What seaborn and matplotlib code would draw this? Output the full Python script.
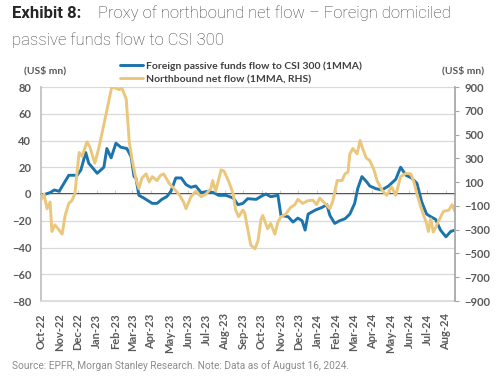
import matplotlib
matplotlib.use("Agg")
import matplotlib.pyplot as plt
import matplotlib.dates as mdates
from matplotlib.ticker import NullFormatter
from matplotlib.lines import Line2D
import seaborn as sns
import pandas as pd

# ---------------- data ----------------
passive_dates = [
    "2022-10-01", "2022-10-09", "2022-10-16", "2022-10-23", "2022-10-31", "2022-11-08",
    "2022-11-16", "2022-11-30", "2022-12-06", "2022-12-14", "2022-12-19", "2023-01-02",
    "2023-01-13", "2023-01-18", "2023-01-25", "2023-02-02", "2023-02-10", "2023-02-20",
    "2023-02-27", "2023-03-04", "2023-03-07", "2023-03-12", "2023-03-20", "2023-04-03",
    "2023-04-11", "2023-04-19", "2023-04-27", "2023-05-04", "2023-05-12", "2023-05-21",
    "2023-05-29", "2023-06-06", "2023-06-14", "2023-06-23", "2023-07-04", "2023-07-14",
    "2023-07-22", "2023-08-03", "2023-08-15", "2023-08-23", "2023-08-31", "2023-09-08",
    "2023-09-22", "2023-10-03", "2023-10-08", "2023-10-16", "2023-10-28", "2023-11-02",
    "2023-11-14", "2023-11-22", "2023-11-30", "2023-12-07", "2023-12-12", "2023-12-17",
    "2023-12-29", "2024-01-09", "2024-01-17", "2024-01-22", "2024-01-30", "2024-02-07",
    "2024-02-16", "2024-02-24", "2024-03-03", "2024-03-08", "2024-03-15", "2024-03-23",
    "2024-03-28", "2024-04-07", "2024-04-17", "2024-04-28", "2024-05-10", "2024-05-18",
    "2024-05-27", "2024-06-05", "2024-06-14", "2024-06-22", "2024-06-30", "2024-07-07",
    "2024-07-15", "2024-07-23", "2024-08-01", "2024-08-09", "2024-08-16",
]
passive_flow = [
    -2, 0, 1, 3, 2, 8,
    14, 14, 18, 31, 23, 15.5,
    20, 34, 27, 38, 35, 34,
    28, 13, 12, -1, -3, -7,
    -7, -4, -2, 2, 12, 12,
    7, 5, 6, 1, 2, 1,
    -1, -1, -3, -8, -7, -3.5,
    -4, -1, 0, -2, -1, -16,
    -17, -21, -18, -20, -27, -15,
    -12, -10, -8, -16, -22, -20,
    -18.5, -15, -7, 4, 13, 9,
    6, 4, 3, 6, 11, 20,
    14, 12, 8, -6, -15, -17,
    -19, -27, -32, -28, -27,
]

northbound_dates = [
    "2022-10-01", "2022-10-06", "2022-10-11", "2022-10-16", "2022-10-19", "2022-10-24",
    "2022-10-31", "2022-11-05", "2022-11-10", "2022-11-16", "2022-11-21", "2022-11-26",
    "2022-12-03", "2022-12-08", "2022-12-16", "2022-12-21", "2022-12-29", "2023-01-05",
    "2023-01-13", "2023-01-21", "2023-01-26", "2023-02-02", "2023-02-07", "2023-02-12",
    "2023-02-19", "2023-02-24", "2023-03-01", "2023-03-07", "2023-03-12", "2023-03-17",
    "2023-03-24", "2023-03-29", "2023-04-03", "2023-04-11", "2023-04-17", "2023-04-22",
    "2023-05-01", "2023-05-09", "2023-05-17", "2023-05-25", "2023-05-29", "2023-06-06",
    "2023-06-14", "2023-06-23", "2023-07-01", "2023-07-09", "2023-07-12", "2023-07-17",
    "2023-07-26", "2023-07-31", "2023-08-08", "2023-08-15", "2023-08-19", "2023-08-24",
    "2023-08-31", "2023-09-03", "2023-09-08", "2023-09-13", "2023-09-20", "2023-09-25",
    "2023-09-30", "2023-10-03", "2023-10-11", "2023-10-16", "2023-10-23", "2023-10-28",
    "2023-11-02", "2023-11-10", "2023-11-18", "2023-11-25", "2023-11-30", "2023-12-08",
    "2023-12-17", "2023-12-25", "2023-12-31", "2024-01-05", "2024-01-14", "2024-01-22",
    "2024-01-27", "2024-02-03", "2024-02-11", "2024-02-16", "2024-02-21", "2024-02-24",
    "2024-02-29", "2024-03-07", "2024-03-12", "2024-03-17", "2024-03-22", "2024-03-28",
    "2024-04-04", "2024-04-09", "2024-04-17", "2024-04-25", "2024-05-03", "2024-05-10",
    "2024-05-18", "2024-05-27", "2024-06-04", "2024-06-09", "2024-06-14", "2024-06-22",
    "2024-06-30", "2024-07-03", "2024-07-07", "2024-07-11", "2024-07-15", "2024-07-20",
    "2024-07-28", "2024-08-06", "2024-08-11", "2024-08-16",
]
northbound_flow = [
    -51, 0, -124, -68, -315, -259,
    -304, -338, -180, -79, -56, 0,
    349, 315, 439, 394, 259, 394,
    585, 776, 900, 889, 878, 889,
    799, 439, 281, 129, 45, 135,
    169, 101, 146, 113, 158, 169,
    90, 45, 0, -68, -124, -23,
    23, -23, 0, 45, 113, 23,
    203, 191, 101, 0, -135, -191,
    -135, -158, -293, -428, -461, -394,
    -214, -180, -293, -248, -338, -236,
    -191, -169, -113, -90, -45, -79,
    -56, -52, -90, -34, -79, -124,
    -56, 113, 113, 169, 186, 338,
    383, 338, 450, 371, 304, 281,
    203, 113, 34, -11, 62, -11,
    146, 174, 169, 101, 0, -135,
    -248, -315, -210, -320, -281, -225,
    -146, -135, -90, -146,
]

left_ticks = [80, 60, 40, 20, 0, -20, -40, -60, -80]
right_ticks = [900, 700, 500, 300, 100, -100, -300, -500, -700, -900]

series_labels = ["Foreign passive funds flow to CSI 300 (1MMA)",
                 "Northbound net flow (1MMA, RHS)"]
title_bold = "Exhibit 8:"
title_rest = "Proxy of northbound net flow \u2013 Foreign domiciled"
title_line2 = "passive funds flow to CSI 300"
unit_label = "(US$ mn)"
source_text = "Source: EPFR, Morgan Stanley Research. Note: Data as of August 16, 2024."

# ---------------- styling ----------------
BLUE = "#1c74ab"
GOLD = "#ebc77c"
GRID = "#d9d9d9"
TICKC = "#595959"

sns.set_theme(style="white")
plt.rcParams['font.family'] = ['Lato', 'DejaVu Sans']

df_p = pd.DataFrame({"date": pd.to_datetime(passive_dates), "flow": passive_flow})
df_n = pd.DataFrame({"date": pd.to_datetime(northbound_dates), "flow": northbound_flow})

fig = plt.figure(figsize=(4.98, 3.78), dpi=100)
ax = fig.add_axes([41 / 498, 1 - 301 / 378, 414 / 498, 214 / 378])

sns.lineplot(data=df_p, x="date", y="flow", ax=ax, color=BLUE, lw=2.1)
ax2 = ax.twinx()
sns.lineplot(data=df_n, x="date", y="flow", ax=ax2, color=GOLD, lw=2.1)

ax.set_xlim(pd.Timestamp("2022-10-01"), pd.Timestamp("2024-08-16"))
ax.set_ylim(-80, 80)
ax2.set_ylim(-900, 900)
ax.set_yticks(left_ticks)
ax2.set_yticks(right_ticks)
for a in (ax, ax2):
    a.set_xlabel("")
    a.set_ylabel("")

ax.xaxis.set_major_locator(mdates.MonthLocator())
ax.xaxis.set_major_formatter(mdates.DateFormatter("%b-%y"))

ax.grid(axis="y", color=GRID, lw=0.9)
ax.set_axisbelow(True)

ax.spines["top"].set_visible(False)
ax2.spines["top"].set_visible(False)
ax.spines["bottom"].set_color(GRID)
ax.spines["left"].set_color("#bfbfbf")
ax2.spines["left"].set_visible(False)
ax.spines["right"].set_visible(False)
ax2.spines["bottom"].set_visible(False)
ax2.spines["right"].set_color("#a6a6a6")

ax.tick_params(axis="y", length=0, pad=7, labelsize=8, labelcolor=TICKC)
ax.tick_params(axis="x", length=0, pad=9, labelsize=8, labelcolor=TICKC, rotation=90)
ax2.tick_params(axis="y", length=3, width=0.8, color="#a6a6a6", pad=4,
                labelsize=8, labelcolor=TICKC)
for lab in ax.get_xticklabels() + ax.get_yticklabels() + ax2.get_yticklabels():
    lab.set_fontweight("bold")

# horizontal axis line at zero with month tick marks
sec = ax.secondary_xaxis(0.5)
sec.xaxis.set_major_locator(mdates.MonthLocator())
sec.xaxis.set_major_formatter(NullFormatter())
sec.tick_params(axis="x", length=3, width=0.8, color="#cfcfcf")
sec.spines["bottom"].set_color("#d0d0d0")
sec.spines["bottom"].set_linewidth(0.9)

# legend
handles = [Line2D([], [], color=BLUE, lw=2.1, label=series_labels[0]),
           Line2D([], [], color=GOLD, lw=2.1, label=series_labels[1])]
fig.legend(handles=handles, loc="upper left", bbox_to_anchor=(120 / 498, 1 - 61 / 378),
           frameon=False, prop={"family": "Lato", "weight": "bold", "size": 7.5},
           labelcolor="#404040", handlelength=2.2, handletextpad=0.25,
           labelspacing=0.4, borderpad=0, borderaxespad=0)

fig.text(45 / 498, 1 - 71 / 378, unit_label, ha="center", va="center",
         fontweight="bold", color=TICKC, fontsize=7.5)
fig.text(463 / 498, 1 - 71 / 378, unit_label, ha="center", va="center",
         fontweight="bold", color=TICKC, fontsize=7.5)

# title
fig.text(12 / 498, 1 - 13 / 378, title_bold, ha="left", va="center",
         family=["Roboto", "DejaVu Sans"], fontweight="bold", fontsize=12, color="#262626")
fig.text(98 / 498, 1 - 13 / 378, title_rest, ha="left", va="center",
         family=["Roboto", "DejaVu Sans"], fontweight="light", fontsize=12, color="#404040")
fig.text(12 / 498, 1 - 40 / 378, title_line2, ha="left", va="center",
         family=["Roboto", "DejaVu Sans"], fontweight="light", fontsize=12, color="#404040")

fig.text(12 / 498, 1 - 366 / 378, source_text, ha="left", va="center",
         family=["Roboto", "DejaVu Sans"], fontsize=7.3, color="#8c8c8c")

fig.savefig("out.png", dpi=100)
